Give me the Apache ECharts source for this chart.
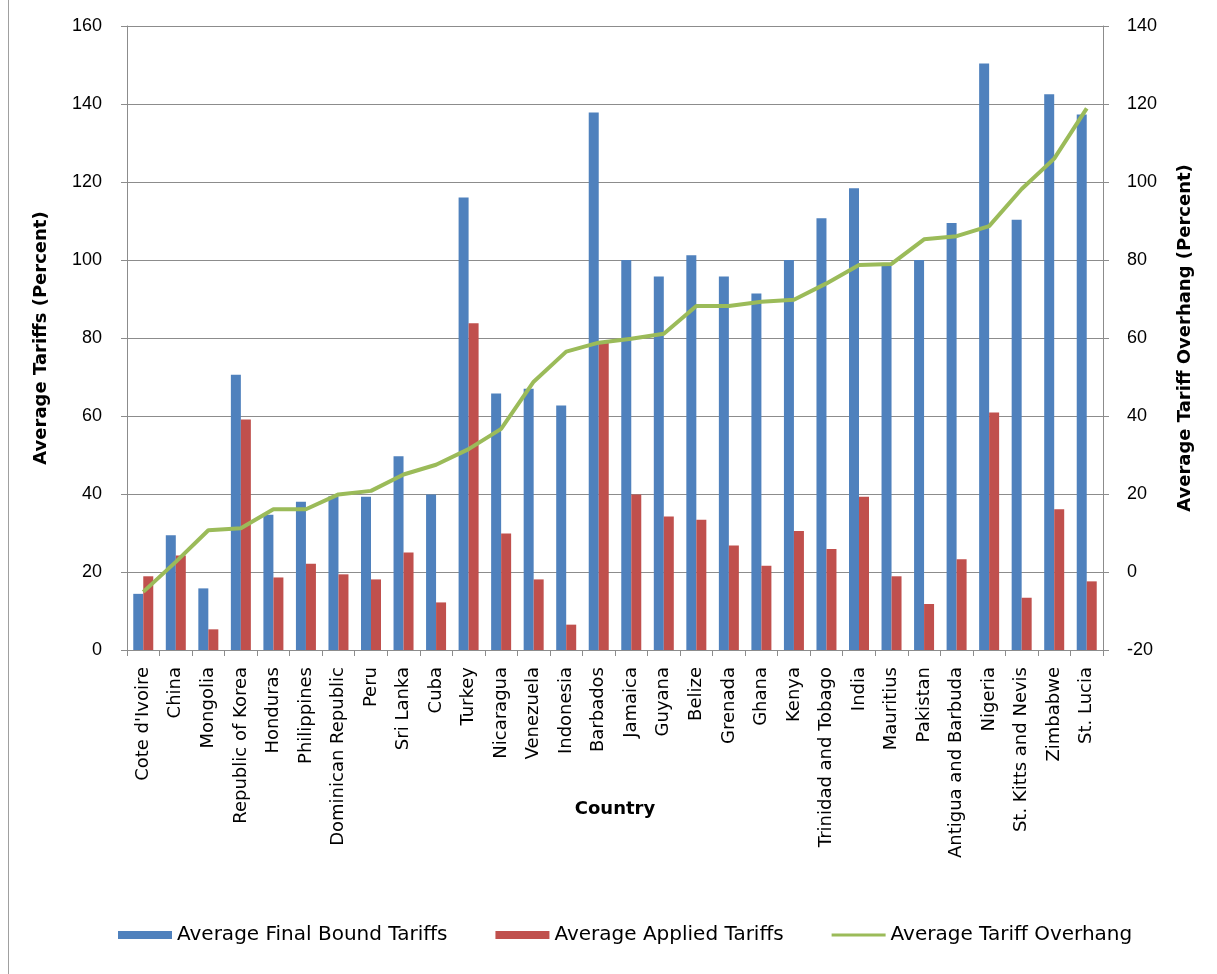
<!DOCTYPE html>
<html>
<head>
<meta charset="utf-8">
<script src="https://cdn.jsdelivr.net/npm/echarts@6/dist/echarts.min.js"></script>
<style>
  html, body { margin: 0; padding: 0; background: #fff; }
  #chart { width: 1217px; height: 974px; }
</style>
</head>
<body>
<div id="chart"></div>
<script>
const countries = [
  "Cote d'Ivoire", 'China', 'Mongolia', 'Republic of Korea', 'Honduras',
  'Philippines', 'Dominican Republic', 'Peru', 'Sri Lanka', 'Cuba',
  'Turkey', 'Nicaragua', 'Venezuela', 'Indonesia', 'Barbados',
  'Jamaica', 'Guyana', 'Belize', 'Grenada', 'Ghana',
  'Kenya', 'Trinidad and Tobago', 'India', 'Mauritius', 'Pakistan',
  'Antigua and Barbuda', 'Nigeria', 'St. Kitts and Nevis', 'Zimbabwe', 'St. Lucia'
];
const boundTariffs = [
  14.4, 29.4, 15.8, 70.6, 34.7, 38.0, 39.4, 39.3, 49.7, 39.9,
  116.0, 65.8, 67.0, 62.7, 137.8, 100.0, 95.8, 101.2, 95.8, 91.4,
  100.0, 110.7, 118.4, 99.0, 100.0, 109.5, 150.4, 110.3, 142.5, 137.3
];
const appliedTariffs = [
  18.9, 24.2, 5.3, 59.1, 18.6, 22.1, 19.4, 18.1, 25.0, 12.2,
  83.8, 29.9, 18.1, 6.5, 78.8, 39.9, 34.2, 33.4, 26.8, 21.6,
  30.5, 25.9, 39.3, 18.9, 11.8, 23.3, 60.9, 13.4, 36.1, 17.6
];
const overhang = [
  -5.1, 2.6, 10.7, 11.2, 16.1, 16.1, 19.9, 20.8, 25.0, 27.5,
  31.5, 36.7, 48.8, 56.5, 58.8, 59.8, 61.1, 68.2, 68.2, 69.3,
  69.8, 74.0, 78.7, 79.0, 85.3, 86.1, 88.7, 98.2, 106.0, 118.9
];

const font = '"DejaVu Sans", Verdana, sans-serif';
const gridColor = '#8c8c8c';

const chart = echarts.init(document.getElementById('chart'));
chart.setOption({
  animation: false,
  backgroundColor: '#fff',
  grid: { left: 127, right: 114, top: 26, bottom: 324 },
  graphic: [
    { type: 'line', shape: { x1: 8.5, y1: 0, x2: 8.5, y2: 974 }, style: { stroke: '#a0a0a0', lineWidth: 1 } }
  ],
  legend: {
    bottom: 24,
    left: 113,
    itemWidth: 54,
    itemHeight: 8,
    itemGap: 48,
    textStyle: { fontFamily: font, fontSize: 20, color: '#000' },
    data: [
      { name: 'Average Final Bound Tariffs', icon: 'rect' },
      { name: 'Average Applied Tariffs', icon: 'rect' },
      { name: 'Average Tariff Overhang', icon: 'path://M0,0 L54,0 L54,3 L0,3 Z' }
    ]
  },
  xAxis: {
    type: 'category',
    data: countries,
    name: 'Country',
    nameLocation: 'middle',
    nameGap: 150,
    nameMoveOverlap: false,
    nameTextStyle: { fontFamily: font, fontSize: 18, fontWeight: 'bold', color: '#000' },
    axisLine: { lineStyle: { color: gridColor } },
    axisTick: { show: true, length: 6, lineStyle: { color: gridColor } },
    axisLabel: { rotate: 90, interval: 0, fontFamily: font, fontSize: 18, color: '#000', margin: 17 }
  },
  yAxis: [
    {
      type: 'value',
      min: 0, max: 160, interval: 20,
      name: 'Average Tariffs (Percent)',
      nameLocation: 'middle',
      nameGap: 77,
      nameMoveOverlap: false,
      nameTextStyle: { fontFamily: font, fontSize: 18, fontWeight: 'bold', color: '#000' },
      axisLine: { show: true, lineStyle: { color: gridColor } },
      axisTick: { show: true, length: 6, lineStyle: { color: gridColor } },
      axisLabel: { fontFamily: '"Liberation Sans", Arial, sans-serif', fontSize: 18, color: '#000', margin: 25 },
      splitLine: { lineStyle: { color: gridColor, width: 1 } }
    },
    {
      type: 'value',
      min: -20, max: 140, interval: 20,
      name: 'Average Tariff Overhang (Percent)',
      nameLocation: 'middle',
      nameGap: 73,
      nameRotate: 90,
      nameMoveOverlap: false,
      nameTextStyle: { fontFamily: font, fontSize: 18, fontWeight: 'bold', color: '#000' },
      axisLine: { show: true, lineStyle: { color: gridColor } },
      axisTick: { show: true, length: 6, lineStyle: { color: gridColor } },
      axisLabel: { fontFamily: '"Liberation Sans", Arial, sans-serif', fontSize: 18, color: '#000', margin: 24 },
      splitLine: { show: false }
    }
  ],
  series: [
    {
      name: 'Average Final Bound Tariffs',
      type: 'bar',
      data: boundTariffs,
      barWidth: 10,
      barGap: '0%',
      itemStyle: { color: '#4F81BD' }
    },
    {
      name: 'Average Applied Tariffs',
      type: 'bar',
      data: appliedTariffs,
      barWidth: 10,
      barGap: '0%',
      itemStyle: { color: '#C0504D' }
    },
    {
      name: 'Average Tariff Overhang',
      type: 'line',
      yAxisIndex: 1,
      data: overhang,
      symbol: 'none',
      lineStyle: { color: '#9BBB59', width: 4 },
      itemStyle: { color: '#9BBB59' }
    }
  ]
});
</script>
</body>
</html>
